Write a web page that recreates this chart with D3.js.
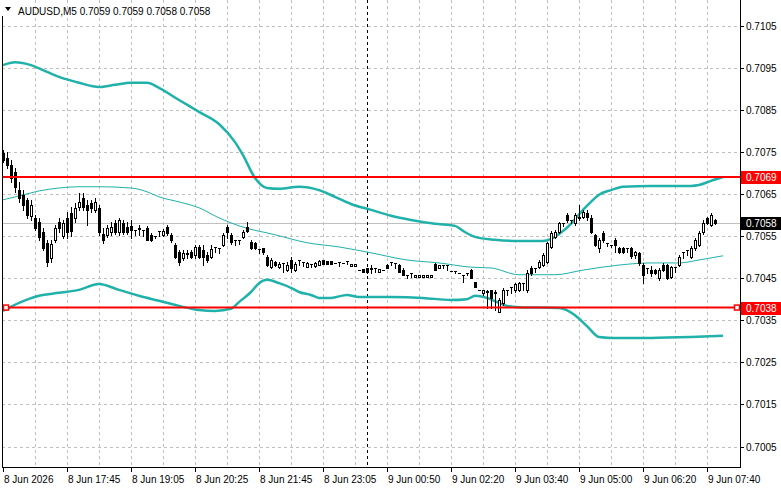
<!DOCTYPE html>
<html lang="en">
<head>
<meta charset="utf-8">
<title>AUDUSD,M5</title>
<script src="https://d3js.org/d3.v7.min.js"></script>
<style>
  body { margin: 0; background: #fff; }
  svg { display: block; }
  text { font-family: "Liberation Sans", Arial, sans-serif; font-size: 10px; fill: #000; }
  .grid { stroke: #c0c0c0; stroke-dasharray: 3,3; shape-rendering: crispEdges; }
  .band { fill: none; stroke: #20b2aa; }
</style>
</head>
<body>
<svg width="781" height="489"></svg>
<script>
var symbol = "AUDUSD,M5";
var lastBar = ["0.7059", "0.7059", "0.7058", "0.7058"];
var priceTicks = [0.7105, 0.7095, 0.7085, 0.7075, 0.7065, 0.7055, 0.7045, 0.7035, 0.7025, 0.7015, 0.7005];
var timeLabels = ["8 Jun 2026", "8 Jun 17:45", "8 Jun 19:05", "8 Jun 20:25", "8 Jun 21:45", "8 Jun 23:05",
                  "9 Jun 00:50", "9 Jun 02:20", "9 Jun 03:40", "9 Jun 05:00", "9 Jun 06:20", "9 Jun 07:40"];
var timeLabelBars = [0, 16, 32, 48, 64, 80, 96, 112, 128, 144, 160, 176];
var levels = [0.7069, 0.7038];
var bid = 0.7058;
var separatorBar = 91;

// open, high, low, close
var candles = [
[0.70747,0.70754,0.70726,0.70731],[0.70735,0.70750,0.70712,0.70719],[0.70719,0.70731,0.70678,0.70688],
[0.70702,0.70712,0.70655,0.70667],[0.70659,0.70678,0.70631,0.70640],[0.70648,0.70659,0.70612,0.70624],
[0.70636,0.70640,0.70593,0.70600],[0.70598,0.70636,0.70588,0.70624],[0.70593,0.70600,0.70564,0.70569],
[0.70583,0.70593,0.70541,0.70548],[0.70560,0.70569,0.70517,0.70522],[0.70534,0.70541,0.70479,0.70488],
[0.70498,0.70541,0.70488,0.70531],[0.70541,0.70576,0.70536,0.70569],[0.70583,0.70593,0.70560,0.70569],
[0.70550,0.70588,0.70545,0.70581],[0.70593,0.70607,0.70545,0.70560],[0.70605,0.70619,0.70550,0.70562],
[0.70593,0.70628,0.70583,0.70617],[0.70619,0.70652,0.70612,0.70631],[0.70640,0.70652,0.70612,0.70619],
[0.70624,0.70636,0.70576,0.70612],[0.70628,0.70636,0.70607,0.70617],[0.70612,0.70640,0.70607,0.70631],
[0.70617,0.70624,0.70553,0.70560],[0.70555,0.70569,0.70534,0.70541],[0.70553,0.70576,0.70548,0.70569],
[0.70560,0.70583,0.70553,0.70572],[0.70581,0.70588,0.70555,0.70560],[0.70560,0.70593,0.70553,0.70588],
[0.70581,0.70588,0.70555,0.70560],[0.70572,0.70583,0.70555,0.70560],[0.70574,0.70588,0.70545,0.70564],
[0.70564,0.70564,0.70553,0.70564],[0.70567,0.70576,0.70553,0.70569],[0.70564,0.70564,0.70550,0.70564],
[0.70569,0.70574,0.70541,0.70541],[0.70553,0.70557,0.70538,0.70541],[0.70550,0.70550,0.70545,0.70550],
[0.70562,0.70562,0.70550,0.70562],[0.70553,0.70567,0.70550,0.70562],[0.70572,0.70576,0.70553,0.70557],
[0.70553,0.70557,0.70536,0.70541],[0.70529,0.70534,0.70498,0.70500],[0.70512,0.70517,0.70481,0.70488],
[0.70498,0.70517,0.70493,0.70510],[0.70507,0.70517,0.70498,0.70510],[0.70512,0.70517,0.70498,0.70500],
[0.70505,0.70529,0.70498,0.70524],[0.70524,0.70529,0.70498,0.70500],[0.70517,0.70529,0.70481,0.70500],
[0.70505,0.70512,0.70488,0.70493],[0.70500,0.70529,0.70498,0.70519],[0.70524,0.70524,0.70512,0.70524],
[0.70522,0.70522,0.70510,0.70522],[0.70529,0.70557,0.70526,0.70553],[0.70572,0.70576,0.70545,0.70560],
[0.70553,0.70557,0.70531,0.70536],[0.70541,0.70541,0.70529,0.70541],[0.70541,0.70541,0.70531,0.70541],
[0.70548,0.70564,0.70545,0.70560],[0.70572,0.70583,0.70560,0.70562],[0.70536,0.70541,0.70519,0.70522],
[0.70534,0.70536,0.70519,0.70522],[0.70519,0.70519,0.70510,0.70519],[0.70522,0.70522,0.70507,0.70512],
[0.70500,0.70505,0.70479,0.70481],[0.70476,0.70498,0.70474,0.70493],[0.70488,0.70491,0.70479,0.70481],
[0.70476,0.70488,0.70474,0.70484],[0.70486,0.70486,0.70465,0.70486],[0.70469,0.70488,0.70467,0.70481],
[0.70493,0.70500,0.70465,0.70474],[0.70469,0.70488,0.70467,0.70484],[0.70493,0.70493,0.70481,0.70493],
[0.70488,0.70488,0.70479,0.70488],[0.70476,0.70488,0.70476,0.70486],[0.70484,0.70484,0.70476,0.70484],
[0.70479,0.70488,0.70476,0.70486],[0.70481,0.70493,0.70481,0.70491],[0.70493,0.70493,0.70484,0.70484],
[0.70491,0.70491,0.70484,0.70484],[0.70491,0.70491,0.70484,0.70484],[0.70486,0.70486,0.70486,0.70486],
[0.70488,0.70488,0.70479,0.70488],[0.70486,0.70486,0.70486,0.70486],[0.70491,0.70491,0.70484,0.70491],
[0.70479,0.70484,0.70479,0.70484],[0.70479,0.70484,0.70479,0.70484],[0.70469,0.70469,0.70469,0.70469],
[0.70472,0.70472,0.70465,0.70465],[0.70474,0.70474,0.70462,0.70465],[0.70474,0.70481,0.70462,0.70472],
[0.70474,0.70474,0.70465,0.70474],[0.70465,0.70472,0.70465,0.70472],[0.70469,0.70469,0.70469,0.70469],
[0.70481,0.70484,0.70474,0.70474],[0.70488,0.70488,0.70481,0.70488],[0.70486,0.70486,0.70474,0.70486],
[0.70481,0.70484,0.70465,0.70465],[0.70469,0.70474,0.70458,0.70458],[0.70458,0.70458,0.70450,0.70458],
[0.70462,0.70462,0.70453,0.70462],[0.70453,0.70458,0.70453,0.70458],[0.70453,0.70458,0.70453,0.70458],
[0.70453,0.70458,0.70453,0.70458],[0.70453,0.70458,0.70453,0.70458],[0.70453,0.70458,0.70453,0.70458],
[0.70484,0.70486,0.70469,0.70469],[0.70474,0.70481,0.70474,0.70481],[0.70481,0.70481,0.70474,0.70481],
[0.70481,0.70481,0.70469,0.70481],[0.70467,0.70467,0.70467,0.70467],[0.70467,0.70467,0.70462,0.70467],
[0.70462,0.70462,0.70462,0.70462],[0.70458,0.70458,0.70441,0.70458],[0.70462,0.70462,0.70458,0.70462],
[0.70469,0.70472,0.70450,0.70450],[0.70441,0.70441,0.70429,0.70429],[0.70422,0.70422,0.70422,0.70422],
[0.70415,0.70422,0.70410,0.70422],[0.70417,0.70422,0.70379,0.70420],[0.70422,0.70422,0.70379,0.70403],
[0.70417,0.70422,0.70374,0.70415],[0.70370,0.70403,0.70370,0.70398],[0.70391,0.70427,0.70386,0.70422],
[0.70422,0.70422,0.70410,0.70422],[0.70429,0.70429,0.70415,0.70429],[0.70422,0.70438,0.70417,0.70436],
[0.70422,0.70441,0.70420,0.70438],[0.70438,0.70438,0.70422,0.70438],[0.70422,0.70469,0.70417,0.70462],
[0.70474,0.70479,0.70458,0.70462],[0.70474,0.70474,0.70465,0.70474],[0.70476,0.70493,0.70474,0.70488],
[0.70481,0.70510,0.70479,0.70505],[0.70488,0.70536,0.70486,0.70534],[0.70524,0.70562,0.70522,0.70557],
[0.70548,0.70564,0.70545,0.70560],[0.70560,0.70583,0.70557,0.70581],[0.70581,0.70581,0.70574,0.70581],
[0.70600,0.70605,0.70583,0.70588],[0.70588,0.70588,0.70581,0.70588],[0.70581,0.70605,0.70576,0.70600],
[0.70593,0.70624,0.70588,0.70595],[0.70595,0.70612,0.70593,0.70607],[0.70605,0.70612,0.70588,0.70595],
[0.70593,0.70600,0.70557,0.70560],[0.70553,0.70555,0.70526,0.70529],[0.70522,0.70545,0.70512,0.70541],
[0.70557,0.70562,0.70536,0.70541],[0.70534,0.70534,0.70526,0.70534],[0.70529,0.70529,0.70524,0.70529],
[0.70541,0.70545,0.70512,0.70529],[0.70522,0.70524,0.70510,0.70512],[0.70522,0.70524,0.70510,0.70512],
[0.70522,0.70522,0.70512,0.70522],[0.70522,0.70524,0.70498,0.70503],[0.70505,0.70514,0.70498,0.70512],
[0.70510,0.70512,0.70481,0.70486],[0.70481,0.70486,0.70438,0.70458],[0.70474,0.70474,0.70462,0.70474],
[0.70469,0.70479,0.70455,0.70462],[0.70469,0.70472,0.70460,0.70462],[0.70450,0.70474,0.70446,0.70469],
[0.70481,0.70486,0.70467,0.70469],[0.70481,0.70484,0.70448,0.70450],[0.70453,0.70479,0.70450,0.70476],
[0.70476,0.70476,0.70465,0.70476],[0.70481,0.70505,0.70479,0.70500],[0.70512,0.70512,0.70498,0.70512],
[0.70517,0.70517,0.70505,0.70517],[0.70500,0.70526,0.70498,0.70522],[0.70522,0.70545,0.70517,0.70541],
[0.70529,0.70562,0.70526,0.70557],[0.70560,0.70588,0.70555,0.70581],[0.70593,0.70595,0.70579,0.70581],
[0.70576,0.70605,0.70574,0.70600],[0.70588,0.70590,0.70579,0.70581]
];

// Bollinger bands, [bar, price]
var upperBand = [[0,0.70956],[3,0.70963],[7,0.70956],[10,0.70944],[14,0.70928],[19,0.70914],[24,0.70904],
  [28,0.70909],[32,0.70914],[36,0.70914],[39,0.70902],[44,0.70873],[49,0.70845],[54,0.70816],[58,0.70773],
  [60,0.70742],[63,0.70688],[66,0.70664],[69,0.70662],[74,0.70667],[79,0.70659],[83,0.70643],[87,0.70626],
  [92,0.70612],[97,0.70598],[102,0.70588],[108,0.70579],[113,0.70574],[115,0.70562],[118,0.70548],[123,0.70541],
  [129,0.70538],[135,0.70538],[137,0.70543],[140,0.70562],[142,0.70579],[145,0.70612],[147,0.70631],[149,0.70648],
  [152,0.70659],[155,0.70667],[162,0.70669],[172,0.70669],[174,0.70671],[177,0.70681],[180,0.70690]];
var middleBand = [[0,0.70636],[4,0.70645],[9,0.70657],[14,0.70664],[19,0.70667],[24,0.70667],[32,0.70664],
  [36,0.70655],[39,0.70643],[44,0.70631],[49,0.70617],[54,0.70593],[59,0.70574],[68,0.70553],[76,0.70534],
  [84,0.70524],[92,0.70510],[101,0.70493],[109,0.70486],[117,0.70476],[122,0.70474],[129,0.70458],[138,0.70458],
  [145,0.70469],[154,0.70481],[162,0.70486],[169,0.70486],[174,0.70493],[180,0.70503]];
var lowerBand = [[0,0.70372],[4,0.70391],[9,0.70408],[14,0.70415],[19,0.70422],[24,0.70436],[29,0.70422],
  [34,0.70408],[39,0.70396],[44,0.70384],[49,0.70374],[53,0.70372],[57,0.70377],[59,0.70393],[62,0.70417],
  [64,0.70438],[66,0.70446],[69,0.70438],[72,0.70427],[74,0.70417],[77,0.70410],[79,0.70403],[82,0.70403],
  [86,0.70410],[89,0.70405],[97,0.70405],[105,0.70403],[112,0.70398],[116,0.70400],[118,0.70408],[121,0.70403],
  [124,0.70391],[126,0.70384],[129,0.70381],[139,0.70379],[143,0.70362],[146,0.70336],[149,0.70310],
  [152,0.70308],[162,0.70308],[172,0.70310],[180,0.70313]];

var svg = d3.select("svg");
var plot = {left: 2, right: 740, top: 0, bottom: 467};

var x = d3.scaleLinear().domain([0, 178]).range([3, 715]);
var y = d3.scaleLinear().domain([0.7005, 0.7105]).range([446.5, 25.5]);
var py = p => Math.round(y(p));

// grid
var vBars = d3.range(8, 180, 8);
svg.append("g").selectAll("line").data(vBars).join("line")
    .attr("class", "grid")
    .attr("x1", d => x(d) + 0.5).attr("x2", d => x(d) + 0.5)
    .attr("y1", plot.top).attr("y2", plot.bottom);
svg.append("g").selectAll("line").data(priceTicks).join("line")
    .attr("class", "grid")
    .attr("x1", plot.left).attr("x2", plot.right)
    .attr("y1", d => py(d) + 0.5).attr("y2", d => py(d) + 0.5);

// bid line
svg.append("line")
    .attr("x1", plot.left).attr("x2", plot.right)
    .attr("y1", py(bid) + 0.5).attr("y2", py(bid) + 0.5)
    .attr("stroke", "#c0c0c0").attr("shape-rendering", "crispEdges");

// separator
svg.append("line")
    .attr("x1", x(separatorBar) + 0.5).attr("x2", x(separatorBar) + 0.5)
    .attr("y1", plot.top).attr("y2", plot.bottom)
    .attr("stroke", "#000").attr("stroke-dasharray", "3,3").attr("shape-rendering", "crispEdges");

// bands
var line = d3.line().x(d => x(d[0])).y(d => y(d[1])).curve(d3.curveMonotoneX);
svg.append("path").datum(upperBand).attr("class", "band").attr("stroke-width", 2.5).attr("d", line);
svg.append("path").datum(lowerBand).attr("class", "band").attr("stroke-width", 2.5).attr("d", line);
svg.append("path").datum(middleBand).attr("class", "band").attr("stroke-width", 1).attr("d", line);

// candles
var cg = svg.append("g").attr("shape-rendering", "crispEdges");
cg.selectAll("line").data(candles).join("line")
    .attr("x1", (d, i) => x(i) + 0.5).attr("x2", (d, i) => x(i) + 0.5)
    .attr("y1", d => py(d[1])).attr("y2", d => py(d[2]) + 1)
    .attr("stroke", "#000");
cg.selectAll("rect").data(candles).join("rect")
    .each(function(d, i) {
      var top = py(Math.max(d[0], d[3])), bot = py(Math.min(d[0], d[3]));
      var r = d3.select(this);
      if (d[3] > d[0] && bot - top >= 2) {
        r.attr("x", x(i) - 0.5).attr("y", top + 0.5).attr("width", 2).attr("height", bot - top)
         .attr("fill", "#fff").attr("stroke", "#000");
      } else {
        r.attr("x", x(i) - 1).attr("y", top).attr("width", 3).attr("height", bot - top + 1)
         .attr("fill", "#000");
      }
    });

// levels
levels.forEach(function(v) {
  svg.append("line")
      .attr("x1", plot.left).attr("x2", plot.right)
      .attr("y1", y(v)).attr("y2", y(v))
      .attr("stroke", "#ff0000").attr("stroke-width", 2);
});
[6, 737].forEach(function(px) {
  svg.append("rect")
      .attr("x", px - 2.5).attr("y", y(levels[1]) - 2.5).attr("width", 5).attr("height", 5)
      .attr("fill", "#fff").attr("stroke", "#ff0000").attr("stroke-width", 1.5);
});

// frame
svg.append("line").attr("x1", plot.left + 0.5).attr("x2", plot.left + 0.5)
    .attr("y1", 16).attr("y2", plot.bottom + 1).attr("stroke", "#000");
svg.append("line").attr("x1", plot.right + 0.5).attr("x2", plot.right + 0.5)
    .attr("y1", plot.top).attr("y2", plot.bottom + 1).attr("stroke", "#000");
svg.append("line").attr("x1", plot.left).attr("x2", plot.right + 1)
    .attr("y1", plot.bottom + 0.5).attr("y2", plot.bottom + 0.5).attr("stroke", "#000");

// price axis
var pa = svg.append("g");
pa.selectAll("line").data(priceTicks).join("line")
    .attr("x1", plot.right + 1).attr("x2", plot.right + 4)
    .attr("y1", d => py(d) + 0.5).attr("y2", d => py(d) + 0.5)
    .attr("stroke", "#000");
pa.selectAll("text").data(priceTicks).join("text")
    .attr("x", 746).attr("y", d => py(d) + 4)
    .text(d => d.toFixed(4));

function tag(v, color) {
  svg.append("rect").attr("x", 741).attr("y", py(v) - 6).attr("width", 40).attr("height", 13).attr("fill", color);
  svg.append("text").attr("x", 746).attr("y", py(v) + 4).style("fill", "#fff").text(v.toFixed(4));
}
tag(levels[0], "#ff0000");
tag(levels[1], "#ff0000");
tag(bid, "#000");

// time axis
var ta = svg.append("g");
ta.selectAll("line").data(timeLabelBars).join("line")
    .attr("x1", d => x(d) + 0.5).attr("x2", d => x(d) + 0.5)
    .attr("y1", plot.bottom + 1).attr("y2", plot.bottom + 5)
    .attr("stroke", "#000");
ta.selectAll("text").data(timeLabels).join("text")
    .attr("x", (d, i) => x(timeLabelBars[i]) + 1).attr("y", 483)
    .text(d => d);

// header
svg.append("path").attr("d", "M5,7 L11,7 L8,11 Z").attr("fill", "#000");
svg.append("text").attr("x", 18).attr("y", 15)
    .text(symbol + "  " + lastBar.join(" "));
</script>
</body>
</html>
